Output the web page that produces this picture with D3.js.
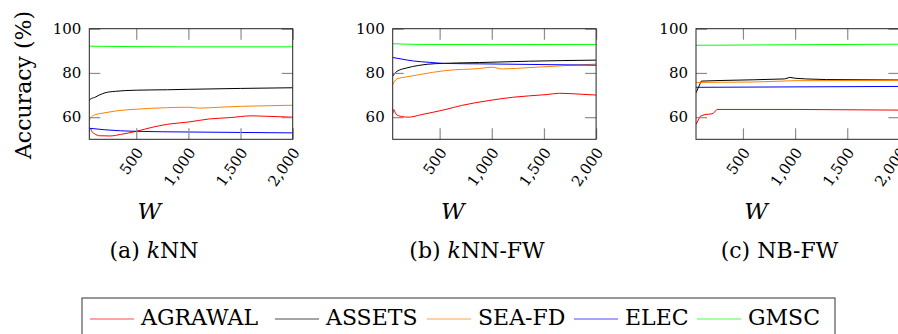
<!DOCTYPE html>
<html>
<head>
<meta charset="utf-8">
<script src="https://cdn.jsdelivr.net/npm/d3@7"></script>
<style>
  body { margin: 0; background: #fff; }
  svg { display: block; }
  text { font-family: "DejaVu Serif", "Liberation Serif", "Times New Roman", serif; fill: #000; }
</style>
</head>
<body>
<svg id="chart" width="898" height="334"></svg>
<script>
// values: [W, accuracy %]
var knnAgrawal = [[50,53.5],[60,55],[75,53.5],[100,52.5],[150,51.6],[250,51.5],[350,52.2],[500,53.6],[650,55.4],[800,56.8],[1000,57.8],[1200,59.2],[1400,59.8],[1600,60.6],[1750,60.4],[2000,60]];
var knnAssets = [[50,67.3],[60,68.2],[100,68.9],[150,70.1],[200,71],[300,71.7],[500,72.2],[800,72.4],[1000,72.6],[1500,73],[2000,73.3]];
var knnSeaFd = [[50,58.3],[60,59.5],[100,61],[200,62],[300,62.8],[500,63.6],[800,64.3],[1000,64.5],[1100,64.1],[1300,64.5],[1500,64.9],[1800,65.2],[2000,65.4]];
var knnElec = [[50,55],[200,54.3],[500,53.6],[1000,53.3],[1500,53.1],[2000,52.9]];
var knnGmsc = [[50,92.1],[500,91.9],[1000,91.8],[2000,91.8]];

var fwAgrawal = [[50,61.5],[60,63.5],[75,62],[90,61],[150,60.2],[200,60],[330,61.2],[550,63.4],[710,65.3],[970,67.5],[1200,69],[1520,70.2],[1650,70.8],[1850,70.4],[2000,70]];
var fwAssets = [[50,78.5],[90,80.7],[180,82.2],[300,83.4],[460,84.2],[880,84.7],[1350,85.3],[2000,85.8]];
var fwSeaFd = [[50,74.7],[90,77.3],[180,78.2],[300,79.2],[560,81.1],[880,82],[1000,82.6],[1100,81.8],[1350,82.4],[1700,83.3],[2000,84]];
var fwElec = [[50,87],[120,86.4],[250,85.4],[400,84.8],[550,84.3],[900,84.1],[2000,83.5]];
var fwGmsc = [[50,93.2],[300,92.9],[1000,92.8],[2000,92.9]];

var nbAgrawal = [[50,56.7],[90,60.4],[135,61.2],[185,61.4],[215,61.7],[250,63.5],[1000,63.5],[2000,63.2]];
var nbAssets = [[50,71],[100,76.3],[300,76.6],[600,76.9],[900,77.3],[950,78],[1000,77.6],[1100,77.3],[1300,77],[2000,76.8]];
var nbSeaFd = [[50,75.7],[600,75.9],[1000,76.5],[2000,76.6]];
var nbElec = [[50,73.5],[2000,73.9]];
var nbGmsc = [[50,92.5],[2000,93]];

var seriesNames = ["AGRAWAL", "ASSETS", "SEA-FD", "ELEC", "GMSC"];
var seriesColors = ["#ff0000", "#000000", "#ff8000", "#0000ff", "#00ff00"];
var xTicks = [500, 1000, 1500, 2000];
var yTicks = [60, 80, 100];
var xLabel = "W";
var yLabel = "Accuracy (%)";
// caption pieces: [text, italic]
var captions = [
  [["(a) ", false], ["k", true], ["NN", false]],
  [["(b) ", false], ["k", true], ["NN-FW", false]],
  [["(c) NB-FW", false]]
];

var panels = [
  [knnAgrawal, knnAssets, knnSeaFd, knnElec, knnGmsc],
  [fwAgrawal, fwAssets, fwSeaFd, fwElec, fwGmsc],
  [nbAgrawal, nbAssets, nbSeaFd, nbElec, nbGmsc]
];

var svg = d3.select("#chart");

var panelLeft = [89.3, 392.7, 696];
var captionX = [154, 477, 779.5];
var plotTop = 28.7, plotW = 203.4, plotH = 110.6;

var x = d3.scaleLinear().domain([50, 2000]).range([0, plotW]);
var y = d3.scaleLinear().domain([50, 100]).range([plotH, 0]);

svg.append("clipPath").attr("id", "plotclip")
  .append("rect").attr("width", plotW).attr("height", plotH);

panels.forEach(function (series, pi) {
  var g = svg.append("g")
    .attr("transform", "translate(" + panelLeft[pi] + "," + plotTop + ")");

  var line = d3.line()
    .x(function (d) { return x(d[0]); })
    .y(function (d) { return y(d[1]); })
    .curve(pi == 2 ? d3.curveLinear : d3.curveMonotoneX);

  var lines = g.append("g").attr("clip-path", "url(#plotclip)");
  series.forEach(function (s, si) {
    lines.append("path")
      .datum(s)
      .attr("fill", "none")
      .attr("stroke", seriesColors[si])
      .attr("stroke-width", 1)
      .attr("d", line);
  });

  // ticks on all four sides, pointing inwards
  var bottom = g.append("g").attr("transform", "translate(0," + plotH + ")")
    .call(d3.axisBottom(x).tickValues(xTicks).tickSizeInner(-11).tickSizeOuter(0)
      .tickPadding(0).tickFormat(d3.format(",")));
  bottom.selectAll("text")
    .attr("y", null).attr("dy", "0.35em")
    .attr("text-anchor", "end")
    .attr("transform", "translate(3,10) rotate(-55)");

  g.append("g")
    .call(d3.axisTop(x).tickValues(xTicks).tickSizeInner(-11).tickSizeOuter(0).tickFormat(""));

  g.append("g")
    .call(d3.axisLeft(y).tickValues(yTicks).tickSizeInner(-11).tickSizeOuter(0).tickPadding(8));

  g.append("g").attr("transform", "translate(" + plotW + ",0)")
    .call(d3.axisRight(y).tickValues(yTicks).tickSizeInner(-11).tickSizeOuter(0).tickFormat(""));

  g.selectAll(".domain").remove();
  g.selectAll(".tick line").attr("stroke", "#8c8c8c").attr("stroke-width", 1.2);
  g.selectAll(".tick text").attr("font-size", 15).attr("fill", "#222");

  g.append("rect")
    .attr("width", plotW).attr("height", plotH)
    .attr("fill", "none").attr("stroke", "#222").attr("stroke-width", 1);

  // x axis label
  svg.append("text")
    .attr("x", panelLeft[pi] + 60).attr("y", 219)
    .attr("text-anchor", "middle")
    .attr("font-size", 23).attr("font-style", "italic")
    .text(xLabel);

  // sub caption
  var cap = svg.append("text")
    .attr("x", captionX[pi]).attr("y", 258)
    .attr("text-anchor", "middle")
    .attr("font-size", 22);
  captions[pi].forEach(function (c) {
    cap.append("tspan").attr("font-style", c[1] ? "italic" : "normal").text(c[0]);
  });
});

// y label
svg.append("text")
  .attr("transform", "translate(31,85) rotate(-90)")
  .attr("text-anchor", "middle")
  .attr("font-size", 22)
  .text(yLabel);

// legend
var legend = svg.append("g");
legend.append("rect")
  .attr("x", 82).attr("y", 298).attr("width", 753).attr("height", 45)
  .attr("fill", "none").attr("stroke", "#333").attr("stroke-width", 1);

var legendTextX = [141, 326, 478, 625, 748];
seriesNames.forEach(function (name, i) {
  legend.append("line")
    .attr("x1", legendTextX[i] - 51).attr("x2", legendTextX[i] - 7).attr("y1", 319).attr("y2", 319)
    .attr("stroke", seriesColors[i]).attr("stroke-width", 1.2).attr("stroke-opacity", 0.7);
  legend.append("text")
    .attr("x", legendTextX[i]).attr("y", 325)
    .attr("font-size", 22)
    .text(name);
});
</script>
</body>
</html>
